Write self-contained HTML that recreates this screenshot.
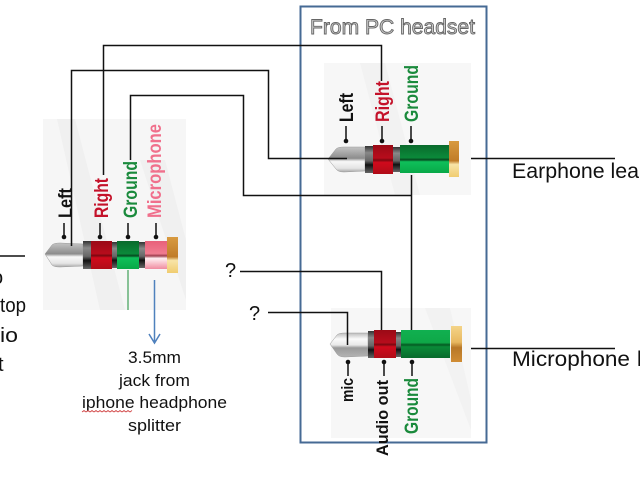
<!DOCTYPE html>
<html><head><meta charset="utf-8"><style>
html,body{margin:0;padding:0;background:#fff;width:640px;height:480px;overflow:hidden}
svg{display:block}
text{font-family:"Liberation Sans",sans-serif}
</style></head><body>
<svg width="640" height="480" viewBox="0 0 640 480" xmlns="http://www.w3.org/2000/svg">
<defs>
<linearGradient id="red" x1="0" y1="0" x2="0" y2="1"><stop offset="0" stop-color="#9a0a16"/><stop offset=".45" stop-color="#b80c1c"/><stop offset=".52" stop-color="#7a0810"/><stop offset=".6" stop-color="#d00a1c"/><stop offset="1" stop-color="#b00c18"/></linearGradient>
<linearGradient id="grn" x1="0" y1="0" x2="0" y2="1"><stop offset="0" stop-color="#0a6a2c"/><stop offset=".45" stop-color="#0b8a3a"/><stop offset=".53" stop-color="#064a20"/><stop offset=".6" stop-color="#0fc05a"/><stop offset="1" stop-color="#08a848"/></linearGradient>
<linearGradient id="grn2" x1="0" y1="0" x2="0" y2="1"><stop offset="0" stop-color="#10b050"/><stop offset=".45" stop-color="#0fa848"/><stop offset=".53" stop-color="#055a22"/><stop offset=".6" stop-color="#0a8a38"/><stop offset="1" stop-color="#086a2c"/></linearGradient>
<linearGradient id="pink" x1="0" y1="0" x2="0" y2="1"><stop offset="0" stop-color="#e8607a"/><stop offset=".45" stop-color="#f07c90"/><stop offset=".53" stop-color="#a04050"/><stop offset=".62" stop-color="#fff0f2"/><stop offset="1" stop-color="#f08ca0"/></linearGradient>
<linearGradient id="gold" x1="0" y1="0" x2="0" y2="1"><stop offset="0" stop-color="#d89a40"/><stop offset=".55" stop-color="#c07c28"/><stop offset=".65" stop-color="#f8e4a8"/><stop offset="1" stop-color="#f0cc70"/></linearGradient>
<linearGradient id="gold2" x1="0" y1="0" x2="0" y2="1"><stop offset="0" stop-color="#f4d488"/><stop offset=".45" stop-color="#e8b860"/><stop offset=".6" stop-color="#b87828"/><stop offset="1" stop-color="#d08c34"/></linearGradient>
<linearGradient id="met" x1="0" y1="0" x2="0" y2="1"><stop offset="0" stop-color="#c4c4c4"/><stop offset=".45" stop-color="#8c8c8c"/><stop offset=".58" stop-color="#f8f8f8"/><stop offset=".85" stop-color="#e4e4e4"/><stop offset="1" stop-color="#a8a8a8"/></linearGradient>
<linearGradient id="met2" x1="0" y1="0" x2="0" y2="1"><stop offset="0" stop-color="#bdbdbd"/><stop offset=".25" stop-color="#fafafa"/><stop offset=".5" stop-color="#e8e8e8"/><stop offset=".62" stop-color="#999"/><stop offset="1" stop-color="#b4b4b4"/></linearGradient>
<linearGradient id="dk" x1="0" y1="0" x2="0" y2="1"><stop offset="0" stop-color="#333"/><stop offset=".25" stop-color="#888"/><stop offset=".55" stop-color="#666"/><stop offset=".7" stop-color="#111"/><stop offset="1" stop-color="#666"/></linearGradient>
</defs>

<!-- backgrounds -->
<rect x="43" y="119" width="143" height="191" fill="#f6f6f6"/>
<path d="M57 119 L75 119 L125 310 L100 310Z M140 160 L165 160 L186 240 L186 300 Z" fill="#f0f0f0"/>
<rect x="324" y="63" width="147" height="132" fill="#f7f7f7"/>
<path d="M360 63 L385 63 L420 195 L395 195Z" fill="#f2f2f2"/>
<rect x="331" y="308" width="140" height="130" fill="#f7f7f7"/>
<path d="M425 308 L450 308 L471 400 L471 430Z" fill="#f2f2f2"/>

<!-- box -->
<rect x="300.5" y="6.5" width="186" height="436" fill="none" stroke="#466a94" stroke-width="2"/>
<text x="310" y="34" font-size="21" textLength="165" lengthAdjust="spacingAndGlyphs" fill="#d0d0d0" stroke="#666" stroke-width=".9">From PC headset</text>

<!-- left jack -->
<path d="M45 254 L52 245 Q54 243 60 243 L83 244 L83 266 L60 267 Q54 267 52 265Z" fill="url(#met)" stroke="#999" stroke-width=".5"/>
<rect x="83" y="241" width="8" height="28" fill="url(#dk)"/>
<rect x="91" y="241" width="21" height="28" fill="url(#red)"/>
<rect x="112" y="242" width="5" height="26" fill="url(#dk)"/>
<rect x="117" y="241" width="22" height="28" fill="url(#grn)"/>
<rect x="139" y="242" width="6" height="26" fill="url(#dk)"/>
<rect x="145" y="241" width="22" height="28" fill="url(#pink)"/>
<rect x="167" y="237" width="11" height="36" fill="url(#gold)"/>

<!-- top jack -->
<path d="M328 159 L336 149 Q338 147 344 147 L365 147 L365 171 L344 172 Q338 172 336 169Z" fill="url(#met)" stroke="#999" stroke-width=".5"/>
<rect x="365" y="146" width="8" height="27" fill="url(#dk)"/>
<rect x="373" y="145" width="20" height="29" fill="url(#red)"/>
<rect x="393" y="147" width="7" height="25" fill="url(#dk)"/>
<rect x="400" y="145" width="49" height="28" fill="url(#grn)"/>
<rect x="449" y="141" width="10" height="36" fill="url(#gold)"/>

<!-- bottom jack -->
<path d="M330 344 L337 335 Q339 333 345 333 L368 333 L368 356 L345 357 Q339 357 337 354Z" fill="url(#met2)" stroke="#999" stroke-width=".5"/>
<rect x="368" y="331" width="6" height="27" fill="url(#dk)"/>
<rect x="374" y="330" width="22" height="28" fill="url(#red)"/>
<rect x="396" y="332" width="5" height="25" fill="url(#dk)"/>
<rect x="401" y="330" width="49" height="28" fill="url(#grn2)"/>
<rect x="451" y="326" width="11" height="36" fill="url(#gold2)"/>

<!-- pointer stems -->
<g stroke="#111" stroke-width="1.5" fill="none">
<path d="M64 223V237M100 223V237M128 223V237M156 223V237"/>
<path d="M346 126V141M382 126V141M411 126V141"/>
<path d="M348 362V376M384 362V376M412 362V376"/>
</g>
<g fill="#111">
<circle cx="64" cy="237" r="2.3"/><circle cx="100" cy="237" r="2.3"/><circle cx="128" cy="237" r="2.3"/><circle cx="156" cy="237" r="2.3"/>
<circle cx="346" cy="141" r="2.3"/><circle cx="382" cy="141" r="2.3"/><circle cx="411" cy="141" r="2.3"/>
<circle cx="348" cy="362" r="2.3"/><circle cx="384" cy="362" r="2.3"/><circle cx="412" cy="362" r="2.3"/>
</g>

<!-- jack labels -->
<g font-weight="bold" font-size="19">
<text transform="translate(72 218) rotate(-90)" textLength="30" lengthAdjust="spacingAndGlyphs" fill="#111">Left</text>
<text transform="translate(108 218) rotate(-90)" textLength="40" lengthAdjust="spacingAndGlyphs" fill="#c4122a">Right</text>
<text transform="translate(137 218) rotate(-90)" textLength="57" lengthAdjust="spacingAndGlyphs" fill="#1a8a3c">Ground</text>
<text transform="translate(161 218) rotate(-90)" textLength="94" lengthAdjust="spacingAndGlyphs" fill="#f0708c">Microphone</text>
<text transform="translate(353 122) rotate(-90)" textLength="29" lengthAdjust="spacingAndGlyphs" fill="#111">Left</text>
<text transform="translate(389 122) rotate(-90)" textLength="41" lengthAdjust="spacingAndGlyphs" fill="#c4122a">Right</text>
<text transform="translate(418 122) rotate(-90)" textLength="57" lengthAdjust="spacingAndGlyphs" fill="#1a8a3c">Ground</text>
<text transform="translate(353 402) rotate(-90)" textLength="24" lengthAdjust="spacingAndGlyphs" font-size="17" fill="#111">mic</text>
<text transform="translate(388 456) rotate(-90)" textLength="76" lengthAdjust="spacingAndGlyphs" font-size="17" fill="#111">Audio out</text>
<text transform="translate(418 434) rotate(-90)" textLength="56" lengthAdjust="spacingAndGlyphs" fill="#1a8a3c">Ground</text>
</g>

<!-- wires -->
<g fill="none" stroke="#111" stroke-width="1.5">
<path d="M71.5 246V70.5H268.5V158.5H347"/>
<path d="M103.5 175V45.5H381.5V81"/>
<path d="M130.5 160V95.5H243.5V195.5H411.5"/>
<path d="M411.5 175V330"/>
<path d="M240 271.5H381.5V330"/>
<path d="M268 312.5H347.5V345"/>
<path d="M0 256H25"/>
<path d="M471 158.5H615"/>
<path d="M471 348.5H615"/>
</g>
<path d="M128 270V310" stroke="#3f9f58" stroke-width="1.2" fill="none"/>

<!-- blue arrow -->
<path d="M154.500 280V343M149 334L154.500 343L160 334" fill="none" stroke="#4f81bd" stroke-width="1.5"/>

<!-- text -->
<g fill="#111">
<text x="-8" y="284" font-size="20">o</text>
<text x="0" y="312" font-size="20" textLength="26" lengthAdjust="spacingAndGlyphs">top</text>
<text x="0" y="342" font-size="20" textLength="18" lengthAdjust="spacingAndGlyphs">io</text>
<text x="-2" y="371" font-size="20">t</text>
<text x="225" y="277" font-size="20">?</text>
<text x="249" y="320" font-size="20">?</text>
<text x="512" y="178" font-size="21" textLength="127" lengthAdjust="spacingAndGlyphs">Earphone lea</text>
<text x="512" y="366" font-size="21" textLength="118" lengthAdjust="spacingAndGlyphs">Microphone</text>
<text x="637" y="366" font-size="21">l</text>
<g font-size="17" text-anchor="middle">
<text x="154.500" y="363" textLength="53" lengthAdjust="spacingAndGlyphs">3.5mm</text>
<text x="154.500" y="386" textLength="71" lengthAdjust="spacingAndGlyphs">jack from</text>
<text x="154.500" y="408" textLength="145" lengthAdjust="spacingAndGlyphs">iphone headphone</text>
<text x="154.500" y="431" textLength="53" lengthAdjust="spacingAndGlyphs">splitter</text>
</g>
</g>
<path d="M82 412l2-1.500 2 1.500 2-1.500 2 1.500 2-1.500 2 1.500 2-1.500 2 1.500 2-1.500 2 1.500 2-1.500 2 1.500 2-1.500 2 1.500 2-1.500 2 1.500 2-1.500 2 1.500 2-1.500 2 1.500 2-1.500 2 1.500 2-1.500 2 1.500 2-1.500" fill="none" stroke="#d04040" stroke-width=".8"/>
</svg>
</body></html>
